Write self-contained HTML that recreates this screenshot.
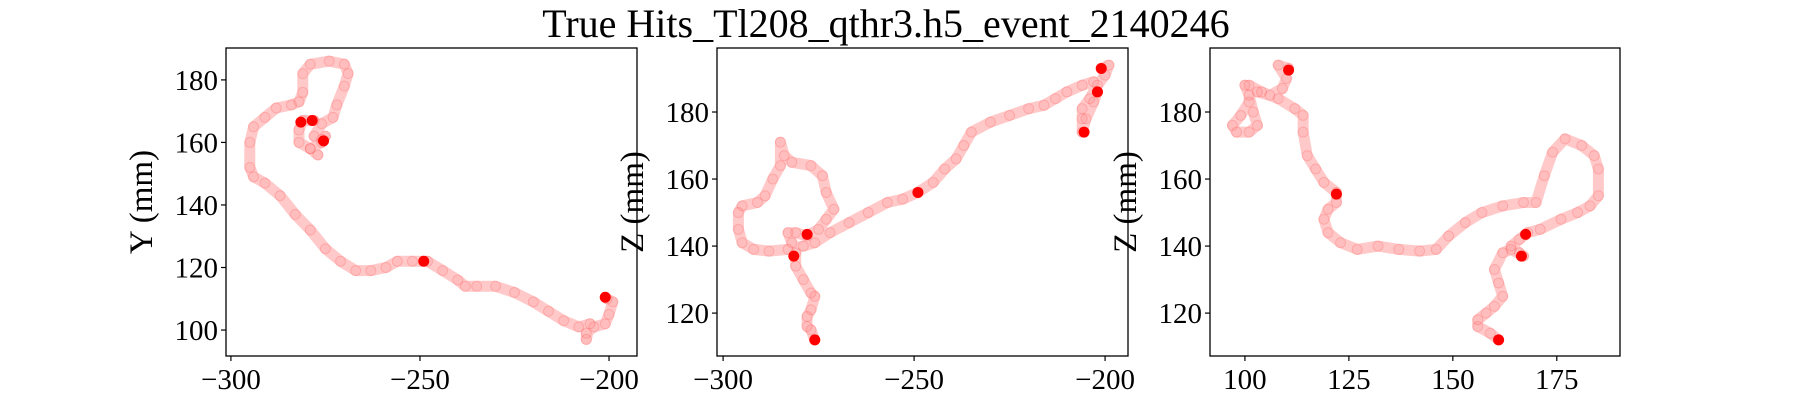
<!DOCTYPE html>
<html><head><meta charset="utf-8"><style>
html,body{margin:0;padding:0;background:#fff;}
svg{display:block;}
text{font-family:"Liberation Serif",serif;fill:#000;}
</style></head><body>
<svg id="fig" width="1800" height="400" viewBox="0 0 1800 400">
<text x="886" y="37" text-anchor="middle" font-size="40">True Hits_Tl208_qthr3.h5_event_2140246</text>
</svg>
<script>
// Panel 1: X vs Y
const p1X=[-200.5,-199,-200,-201,-204,-206,-206,-205,-208,-212,-216,-220,-225,-230,-235,-238,-240,-244,-248,-252,-256,-259,-263,-267,-271,-275,-279,-283,-287,-291,-294,-295,-295,-294,-291,-288,-284,-282,-281,-281,-279,-274,-270,-269,-270,-272,-273,-276,-278,-276,-275,-276,-279,-277,-279,-282,-282,-281,-278];
const p1Y=[110,109,105,102,101,99,97,102,101,103,106,109,112,114,114,114,116,119,122,122,122,120,119,119,122,126,132,137,143,147,149,152,160,165,168,171,172,173,176,182,185,186,185,182,178,172,168,166,162,161,162,160,158,156,158,160,164,167,167];
const p1DotX=[-281.5,-278.5,-275.5,-249,-201];
const p1DotY=[166.5,167,160.5,122,110.5];
const p1XTicks=[-300,-250,-200];
const p1YTicks=[100,120,140,160,180];
// Panel 2: X vs Z
const p2X=[-201,-199,-200,-202,-204,-206,-206,-206,-205,-203,-202,-203,-206,-210,-213,-216,-220,-225,-230,-235,-237,-239,-242,-245,-249,-253,-257,-262,-267,-272,-276,-279,-283,-288,-292,-295,-296,-296,-295,-291,-289,-287,-285,-285,-284,-282,-277,-274,-273,-271,-273,-275,-278,-281,-283,-282,-281,-281,-279,-277,-276,-277,-278,-278,-277,-276];
const p2Z=[193,194,191,188,184,181,178,174,178,183,186,189,188,186,184,182,181,179,177,174,170,166,163,159,156,154,153,150,147,144,141,140,139,138.5,139,141,145,150,152,153,155,160,164,171,167,165,164,161,156,151,148,145,143,144,144,141,138,134,130,126,125,121,119,116,115,112];
const p2DotX=[-201,-202,-205.5,-249,-278,-281.5,-276];
const p2DotZ=[193,186,174,156,143.5,137,112];
const p2XTicks=[-300,-250,-200];
const p2YTicks=[120,140,160,180];
// Panel 3: Y vs Z
const p3Y=[110.5,108,110,109,106,103,100,101,102,103,101,98,97,99,101,101,104,108,112,114,114,115,117,119,122,122,120,119,120,123,127,132,137,142,146,149,153,157,162,167,170,172,174,177,181,184,185,185,183,180,176,171,168,166,164,166,167,164,162,160,161,162,160,158,156,156,159,161];
const p3Z=[193,194,190,187,185,186,188,185,180,176,174,174,176,179,183,188,186,184,181,179,174,167,163,159,156,153,151,148,144,141,139,140,139,138.5,139,143,147,150,152,153,153,161,168,172,170,167,163,155,152,150,148,145,144,142,140,138,137,139,138,133,129,125,122,120,118,116,114,112];
const p3DotY=[110.5,122,167.5,166.5,161];
const p3DotZ=[192.5,155.5,143.5,137,112];
const p3XTicks=[100,125,150,175];
const p3YTicks=[120,140,160,180];

const NS="http://www.w3.org/2000/svg";
const svg=document.getElementById('fig');
function mk(tag,attrs,parent){const e=document.createElementNS(NS,tag);for(const k in attrs)e.setAttribute(k,attrs[k]);(parent||svg).appendChild(e);return e;}

function panel(id,box,xr,yr,xs,ys,dx,dy,xt,yt,ylabel){
  const g=mk('g',{});
  
  
  const sx=v=>box.x0+(v-xr[0])/(xr[1]-xr[0])*(box.x1-box.x0);
  const sy=v=>box.y1-(v-yr[0])/(yr[1]-yr[0])*(box.y1-box.y0);
  const pts=xs.map((v,i)=>sx(v).toFixed(1)+','+sy(ys[i]).toFixed(1)).join(' ');
  const pl=mk('polyline',{points:pts,fill:'none',stroke:'rgba(255,60,60,0.28)','stroke-width':11,'stroke-linejoin':'round','stroke-linecap':'round'},g);
  
  
  xs.forEach((v,i)=>{
    const c=mk('circle',{cx:sx(v),cy:sy(ys[i]),r:5,fill:'rgba(255,0,0,0.06)',stroke:'rgba(255,0,0,0.15)','stroke-width':1},g);
    
    
  });
  dx.forEach((v,i)=>{
    const c=mk('circle',{cx:sx(v),cy:sy(dy[i]),r:5.5,fill:'#ff0000'},g);
    
    
  });
  const fr=mk('rect',{x:box.x0,y:box.y0,width:box.x1-box.x0,height:box.y1-box.y0,fill:'none',stroke:'#000','stroke-width':1.3},g);
  
  
  xt.forEach(v=>{
    const x=sx(v);
    mk('line',{x1:x,x2:x,y1:box.y1,y2:box.y1+5,stroke:'#000','stroke-width':1.2},g);
    const t=mk('text',{x:x,y:box.y1+33,'text-anchor':'middle','font-size':29},g);
    t.textContent=(v<0?'\u2212'+(-v):v);
    
    
  });
  yt.forEach(v=>{
    const y=sy(v);
    mk('line',{x1:box.x0-5,x2:box.x0,y1:y,y2:y,stroke:'#000','stroke-width':1.2},g);
    const t=mk('text',{x:box.x0-8,y:y+10,'text-anchor':'end','font-size':29},g);
    t.textContent=v;
    
    
  });
  const cy=(box.y0+box.y1)/2, lx=box.x0-74;
  const yl=mk('text',{x:lx,y:cy,'text-anchor':'middle','font-size':33,transform:`rotate(-90 ${lx} ${cy})`},g);
  yl.textContent=ylabel;
  
  
}
panel('xy-panel',{x0:226,x1:637,y0:48,y1:356},[-301.3,-192.6],[91.7,190.2],p1X,p1Y,p1DotX,p1DotY,p1XTicks,p1YTicks,'Y (mm)');
panel('xz-panel',{x0:717,x1:1128,y0:48,y1:356},[-301.6,-194],[107.2,199.1],p2X,p2Z,p2DotX,p2DotZ,p2XTicks,p2YTicks,'Z (mm)');
panel('yz-panel',{x0:1210,x1:1620,y0:48,y1:356},[91.6,190.2],[107.2,199.1],p3Y,p3Z,p3DotY,p3DotZ,p3XTicks,p3YTicks,'Z (mm)');
</script>
</body></html>
